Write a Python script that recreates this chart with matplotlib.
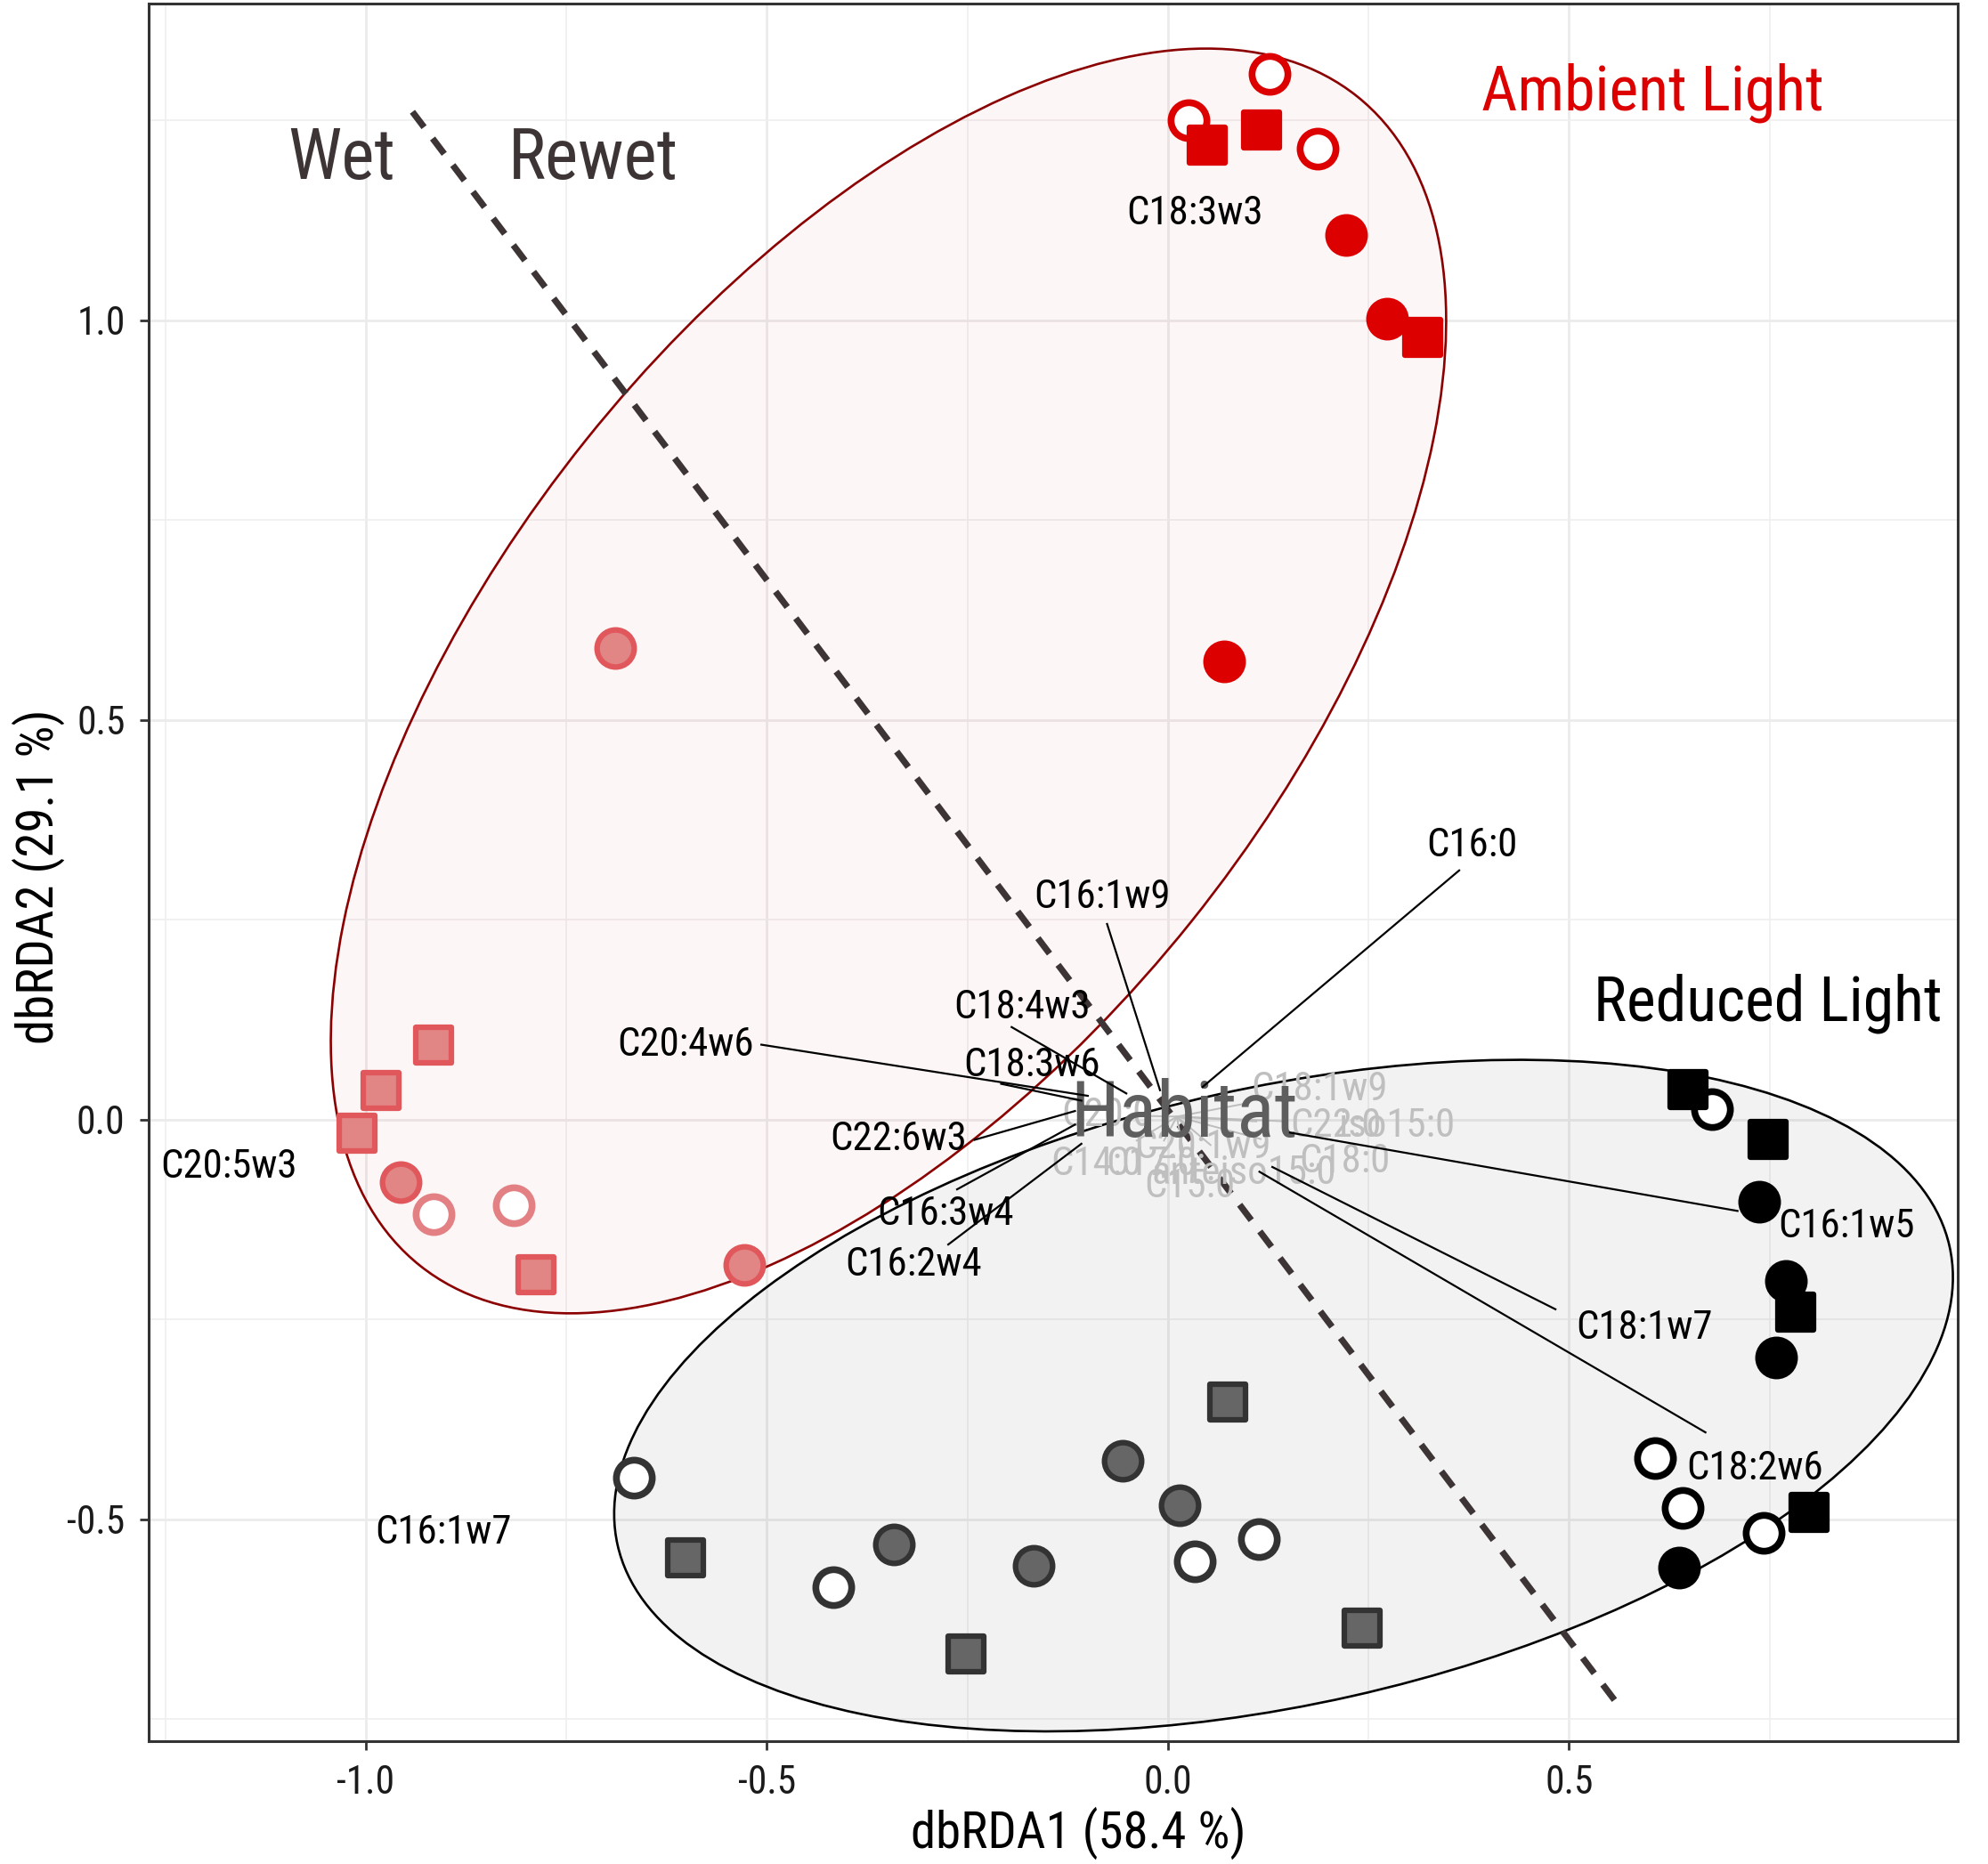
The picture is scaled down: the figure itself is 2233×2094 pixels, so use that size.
import numpy as np
import matplotlib
matplotlib.use('Agg')
import matplotlib.pyplot as plt
from matplotlib import font_manager as fm
from matplotlib.patches import Ellipse
from matplotlib.markers import MarkerStyle

# ---------------- font choice (an Arial-Narrow-like face) ----------------
_candidates = [('Liberation Sans Narrow', None), ('Arial Narrow', None), ('Roboto Condensed', None),
               ('Roboto', 'condensed'), ('Archivo Narrow', None), ('PT Sans Narrow', None),
               ('Open Sans', 'condensed')]
FONT, STRETCH, SIZE_K = 'Liberation Sans', 'normal', 0.88
for name, stretch in _candidates:
    hit = [f for f in fm.fontManager.ttflist
           if f.name == name and f.style == 'normal' and (stretch is None or f.stretch == stretch)]
    if hit:
        FONT, STRETCH, SIZE_K = name, (stretch or 'normal'), 0.95
        break
plt.rcParams['font.family'] = [FONT, 'Liberation Sans', 'DejaVu Sans']
plt.rcParams['font.stretch'] = STRETCH
plt.rcParams['axes.unicode_minus'] = False

# ---------------- data ----------------
# Ambient light, rewet (bright red)
amb_rewet_x = [0.025, 0.127, 0.187, 0.222, 0.273, 0.070, 0.049, 0.117, 0.317]
amb_rewet_y = [1.251, 1.308, 1.215, 1.107, 1.002, 0.574, 1.219, 1.238, 0.979]
amb_rewet_shape = ['open', 'open', 'open', 'filled', 'filled', 'filled', 'square', 'square', 'square']

# Ambient light, wet (light red)
amb_wet_x = [-0.916, -0.816, -0.689, -0.957, -0.528, -0.916, -0.981, -1.011, -0.788]
amb_wet_y = [-0.118, -0.107, 0.590, -0.078, -0.181, 0.094, 0.037, -0.017, -0.194]
amb_wet_shape = ['open', 'open', 'filled', 'filled', 'filled', 'square', 'square', 'square', 'square']

# Reduced light, rewet (black)
red_rewet_x = [0.678, 0.607, 0.642, 0.742, 0.737, 0.770, 0.758, 0.637, 0.648, 0.748, 0.783, 0.799]
red_rewet_y = [0.013, -0.423, -0.485, -0.517, -0.103, -0.202, -0.297, -0.560, 0.038, -0.025, -0.240, -0.491]
red_rewet_shape = ['open', 'open', 'open', 'open', 'filled', 'filled', 'filled', 'filled',
                   'square', 'square', 'square', 'square']

# Reduced light, wet (dark grey)
red_wet_x = [-0.666, -0.417, 0.033, 0.113, -0.342, -0.168, -0.057, 0.014, -0.601, -0.252, 0.074, 0.242]
red_wet_y = [-0.448, -0.585, -0.552, -0.525, -0.531, -0.558, -0.426, -0.482, -0.548, -0.668, -0.353, -0.636]
red_wet_shape = ['open', 'open', 'open', 'open', 'filled', 'filled', 'filled', 'filled',
                 'square', 'square', 'square', 'square']

# Confidence ellipses: centre x, centre y, semi-major, semi-minor, angle (deg)
ellipse_ambient = [-0.3485, 0.549, 0.936, 0.4828, 51.4]
ellipse_reduced = [0.144, -0.345, 0.851, 0.3855, 12.7]

# Wet / Rewet divider
divider_x = [-0.942, 0.562]
divider_y = [1.261, -0.733]

# Significant fatty-acid labels (label position, segment start, segment end)
fa_names = ['C16:0', 'C16:1w9', 'C18:4w3', 'C20:4w6', 'C18:3w6', 'C22:6w3', 'C16:3w4',
            'C16:2w4', 'C16:1w5', 'C18:1w7', 'C18:2w6']
fa_lx = [0.379, -0.082, -0.182, -0.602, -0.170, -0.336, -0.277, -0.317, 0.846, 0.594, 0.732]
fa_ly = [0.343, 0.278, 0.140, 0.094, 0.068, -0.024, -0.118, -0.181, -0.134, -0.261, -0.436]
fa_sx = [0.043, -0.010, -0.052, -0.100, -0.108, -0.116, -0.116, -0.108, 0.152, 0.130, 0.114]
fa_sy = [0.041, 0.037, 0.033, 0.030, 0.024, 0.011, -0.006, -0.030, -0.016, -0.059, -0.065]
fa_ex = [0.363, -0.076, -0.195, -0.507, -0.208, -0.241, -0.263, -0.274, 0.710, 0.483, 0.670]
fa_ey = [0.312, 0.245, 0.116, 0.094, 0.045, -0.025, -0.087, -0.156, -0.114, -0.237, -0.391]

# Labels without segments
free_names = ['C18:3w3', 'C20:5w3', 'C16:1w7']
free_x = [0.033, -1.171, -0.903]
free_y = [1.134, -0.059, -0.517]

# Non-significant (grey) labels
ns_names = ['C20:0', 'C18:1w9', 'C22:0', 'iso15:0', 'C18:0', 'C14:0', 'C17:0', 'C20:1w9',
            'anteiso15:0', 'C15:0']
ns_x = [-0.076, 0.189, 0.209, 0.285, 0.220, -0.089, -0.021, 0.043, 0.095, 0.027]
ns_y = [0.006, 0.038, -0.008, -0.008, -0.052, -0.056, -0.056, -0.035, -0.067, -0.084]

xticks = [-1.0, -0.5, 0.0, 0.5]
xtick_labels = ['-1.0', '-0.5', '0.0', '0.5']
yticks = [-0.5, 0.0, 0.5, 1.0]
ytick_labels = ['-0.5', '0.0', '0.5', '1.0']

# ---------------- figure ----------------
W, H = 2233, 2094
fig = plt.figure(figsize=(W / 100, H / 100), dpi=100)
ax = fig.add_axes([167 / W, 1 - 1956 / H, (2199 - 167) / W, (1956 - 4) / H])
ax.set_xlim(-1.2708, 0.9845)
ax.set_ylim(-0.7773, 1.3964)

fs_lab = 34 * SIZE_K
fs_tick = 33 * SIZE_K
fs_title = 43 * SIZE_K

ax.set_xticks(xticks)
ax.set_xticklabels(xtick_labels)
ax.set_yticks(yticks)
ax.set_yticklabels(ytick_labels)
ax.set_xticks(np.arange(-1.25, 1.0, 0.25), minor=True)
ax.set_yticks(np.arange(-0.75, 1.5, 0.25), minor=True)
ax.grid(True, which='major', color='#EBEBEB', lw=2.0, zorder=0)
ax.grid(True, which='minor', color='#EFEFEF', lw=1.2, zorder=0)
ax.set_axisbelow(True)
ax.tick_params(which='minor', length=0)
ax.tick_params(which='major', length=7, width=2.0, color='#333333', labelsize=fs_tick,
               labelcolor='#1a1a1a', pad=12)
for s in ax.spines.values():
    s.set_color('#333333')
    s.set_linewidth(2.2)

# ellipses
for e, fc, fa, ec in [(ellipse_ambient, '#DD0000', 0.035, '#8B0000'),
                      (ellipse_reduced, '#000000', 0.05, '#000000')]:
    ax.add_patch(Ellipse((e[0], e[1]), 2 * e[2], 2 * e[3], angle=e[4],
                         facecolor=(*matplotlib.colors.to_rgb(fc), fa), edgecolor='none', zorder=1))
    ax.add_patch(Ellipse((e[0], e[1]), 2 * e[2], 2 * e[3], angle=e[4],
                         facecolor='none', edgecolor=ec, lw=1.9, zorder=1.1))

# points
styles = {
    'amb_rewet': dict(filled_fc='#DD0000', filled_ec='#DD0000', open_ec='#DD0000'),
    'amb_wet': dict(filled_fc='#E28585', filled_ec='#E0585C', open_ec='#E38083'),
    'red_rewet': dict(filled_fc='#000000', filled_ec='#000000', open_ec='#000000'),
    'red_wet': dict(filled_fc='#666666', filled_ec='#333333', open_ec='#333333'),
}
groups = [('amb_wet', amb_wet_x, amb_wet_y, amb_wet_shape),
          ('red_wet', red_wet_x, red_wet_y, red_wet_shape),
          ('amb_rewet', amb_rewet_x, amb_rewet_y, amb_rewet_shape),
          ('red_rewet', red_rewet_x, red_rewet_y, red_rewet_shape)]
circ = MarkerStyle('o')
sq = MarkerStyle('s', joinstyle='round')
for name, gx, gy, gs in groups:
    st = styles[name]
    gx = np.array(gx); gy = np.array(gy); gs = np.array(gs)
    m = gs == 'open'
    ax.plot(gx[m], gy[m], ls='none', marker=circ, ms=29, mfc='white', mec=st['open_ec'],
            mew=5.5, zorder=3)
    m = gs == 'filled'
    ax.plot(gx[m], gy[m], ls='none', marker=circ, ms=30, mfc=st['filled_fc'],
            mec=st['filled_ec'], mew=4.5, zorder=3)
    m = gs == 'square'
    ax.plot(gx[m], gy[m], ls='none', marker=sq, ms=29.5, mfc=st['filled_fc'],
            mec=st['filled_ec'], mew=4.5, zorder=3.1)

# divider
ax.plot(divider_x, divider_y, color='#3D3535', lw=5.2, ls=(0, (3.0, 2.2)), zorder=4)

# grey (non-significant) labels & short segments
for n, x, y in zip(ns_names, ns_x, ns_y):
    ax.plot([0.011, 0.011 + 0.5 * (x - 0.011)], [0.004, 0.004 + 0.5 * (y - 0.004)],
            color='#BDBDBD', lw=1.4, zorder=4.5)
    ax.text(x, y, n, fontsize=fs_lab, color='#BFBFBF', ha='center', va='center', zorder=5)

# Habitat
ax.text(0.020, 0.006, 'Habitat', fontsize=67 * SIZE_K, color='#5E5E5E', ha='center', va='center',
        zorder=6)

# significant labels with segments
for n, lx, ly, sx, sy, ex, ey in zip(fa_names, fa_lx, fa_ly, fa_sx, fa_sy, fa_ex, fa_ey):
    ax.plot([sx, ex], [sy, ey], color='black', lw=1.6, zorder=7)
    ax.text(lx, ly, n, fontsize=fs_lab, color='black', ha='center', va='center', zorder=8)
for n, x, y in zip(free_names, free_x, free_y):
    ax.text(x, y, n, fontsize=fs_lab, color='black', ha='center', va='center', zorder=8)

# annotations
ax.text(-1.030, 1.202, 'Wet', fontsize=60 * SIZE_K, color='#3D3535', ha='center', va='center', zorder=8)
ax.text(-0.716, 1.202, 'Rewet', fontsize=60 * SIZE_K, color='#3D3535', ha='center', va='center', zorder=8)
ax.text(0.604, 1.285, 'Ambient Light', fontsize=53 * SIZE_K, color='#DD0000', ha='center',
        va='center', zorder=8)
ax.text(0.748, 0.146, 'Reduced Light', fontsize=53 * SIZE_K, color='black', ha='center',
        va='center', zorder=8)

# axis titles
fig.text(1211 / W, 1 - 2059 / H, 'dbRDA1 (58.4 %)', fontsize=fs_title, color='black',
         ha='center', va='center')
fig.text(43 / W, 1 - 985 / H, 'dbRDA2 (29.1 %)', fontsize=fs_title, color='black',
         ha='center', va='center', rotation=90)

fig.savefig('out.png', dpi=100, facecolor='white')
